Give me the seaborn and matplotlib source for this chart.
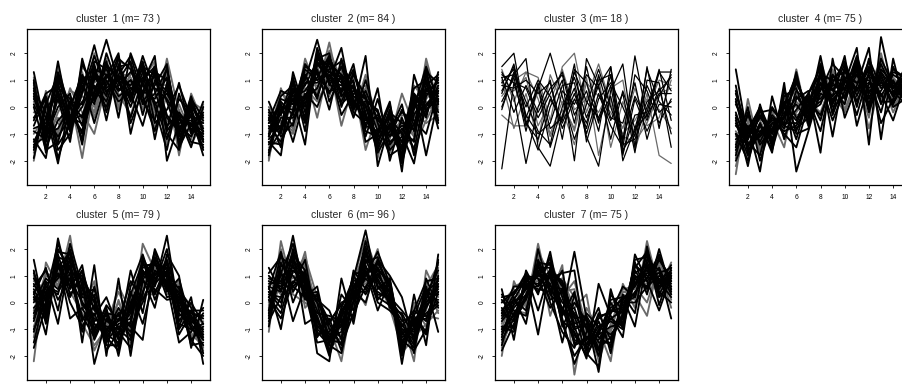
import numpy as np
import pandas as pd
import matplotlib
matplotlib.use("Agg")
import matplotlib.pyplot as plt
import seaborn as sns

time_points = list(range(1, 16))
x_ticks = [2, 4, 6, 8, 10, 12, 14]
y_ticks = [-2, -1, 0, 1, 2]
cluster_ids = [1, 2, 3, 4, 5, 6, 7]
cluster_sizes = [73, 84, 18, 75, 79, 96, 75]

cluster1 = [
    [1.3, -0.9, 1.7, -0.6, 1.1, 0.4, 1.2, 0.6, 1.0, 0.5, 1.2, -0.3, -0.9, 0.1, -0.9],
    [-2.0, 0.6, -1.2, 0.4, -1.9, 0.8, 0.3, 1.4, 0.2, 1.1, -0.4, 1.8, -0.2, -0.7, -0.4],
    [-1.2, -1.9, 0.9, -0.8, 0.6, 2.3, 0.5, 1.2, 1.9, 0.4, 1.5, 0.2, -1.1, -0.3, -1.8],
    [0.6, -0.2, -2.1, 0.2, -0.4, 1.0, 2.5, 0.9, 0.3, 1.9, 0.6, -0.8, 0.9, -1.0, 0.2],
    [-0.9, -1.2, 0.3, -1.3, 1.8, 0.2, 1.1, 2.0, -1.0, 0.9, 1.9, -2.0, -0.6, -0.5, -1.1],
    [0.2, -0.5, -0.9, 0.7, -0.2, -1.0, 0.9, 0.3, 1.2, 1.5, -0.2, 1.3, -1.8, 0.5, -0.6],
    [-1.5, 0.1, 1.2, -0.4, 0.9, 1.5, -0.5, 1.6, 0.5, -0.7, 1.0, 0.6, -0.4, -1.5, 0.0],
    [0.9, -1.5, -0.5, 0.0, -1.0, 0.6, 1.7, -0.4, 2.0, 0.8, 0.2, -1.2, 0.3, -0.2, -1.3],
    [-0.4, 0.3, -1.6, -1.0, 0.5, 1.9, 0.7, 1.1, 0.8, 1.4, -1.2, 0.9, -1.3, 0.2, -0.8],
    [-1.7, -0.7, 1.5, -0.2, 1.3, -0.4, 1.4, 0.5, -0.3, 1.0, 1.7, -0.5, -0.8, -1.2, 0.1],
    [0.4, -1.1, 0.0, 0.5, -1.4, 1.2, 0.4, 1.8, 1.4, 0.2, 0.8, 1.6, -1.5, -0.6, -1.5],
    [-0.7, 0.4, -1.4, -0.7, 0.8, 0.1, 2.0, 0.7, 0.4, 1.7, 0.0, -1.6, 0.5, -0.9, -0.3],
    [1.0, -1.7, 0.7, 0.3, -0.7, 1.6, -0.2, 1.5, 1.6, -0.3, 1.3, 1.0, -1.0, 0.4, -1.0],
    [-1.0, -0.3, -0.6, -1.1, 1.5, 0.9, 1.3, -0.1, 0.9, 1.2, -0.8, 0.4, -0.1, -1.4, -0.5],
    [0.1, -0.8, 1.0, 0.1, -1.2, 1.3, 0.8, 1.9, -0.6, 0.6, 1.4, -1.0, -1.6, 0.0, -1.6],
    [-1.9, 0.2, -1.9, -0.5, 0.2, 0.5, 1.6, 1.0, 1.7, 0.1, 0.5, 1.4, -0.7, -1.1, -0.2],
    [0.7, -1.3, 0.5, -0.9, 1.0, -0.6, 1.0, 0.2, 0.6, 1.6, -0.6, -0.1, 0.8, -0.4, -1.2],
    [-0.2, -0.1, -1.0, 0.4, -0.5, 2.0, 0.1, 1.3, 1.1, 0.3, 0.9, 0.8, -1.2, -0.8, -0.7],
    [-1.3, -0.4, 0.6, -0.6, 0.0, 1.1, 0.6, 0.8, 1.3, 0.9, 0.1, 0.5, -0.3, -0.7, -1.0],
    [0.5, -1.0, -0.8, 0.0, 1.2, 0.3, 1.5, 1.1, 0.0, 1.3, 1.1, -0.4, -0.9, 0.3, -0.4],
    [-0.8, -0.6, 1.1, -0.3, -0.9, 1.4, 1.2, 0.4, 0.7, 0.6, 0.3, 1.1, -1.4, -0.1, -1.3],
    [1.1, -1.4, -0.2, 0.6, 0.4, 0.0, 0.8, 1.7, 1.5, -0.1, 1.6, -1.4, 0.1, -1.0, 0.0],
    [-1.6, 0.0, 0.4, -0.9, 1.6, 0.7, 0.0, 1.2, 0.4, 1.1, 0.7, 0.3, -0.5, -0.6, -0.9],
    [0.0, -1.6, -1.3, 0.2, 0.1, 1.7, 1.4, 0.6, 1.0, 0.2, -0.5, 1.5, -1.0, 0.0, -0.5],
    [-0.5, 0.5, 0.8, -0.5, -0.3, 0.8, 0.2, 1.5, 0.2, 1.5, 1.2, -0.7, -0.3, -1.3, -1.4],
    [0.8, -0.9, -0.4, -1.2, 0.7, -0.2, 1.8, 0.0, 1.3, 0.8, 0.4, 0.6, -1.7, 0.2, -0.1],
    [-1.4, -1.1, 1.3, 0.0, 1.1, 1.1, 0.6, 1.0, -0.4, 1.0, 1.5, -0.9, -0.2, -0.8, -1.2],
    [0.3, -0.4, -1.1, -0.4, -0.6, 0.4, 1.1, 1.4, 0.7, 0.4, -0.9, 0.8, -0.8, -0.3, -0.6],
]

cluster2 = [
    [0.2, -0.9, 0.5, 1.0, 2.5, 0.8, 1.5, 0.2, -0.4, -1.3, -0.2, -1.8, 0.2, 0.9, -0.8],
    [-2.0, 0.7, -0.5, 1.8, 0.6, 2.4, 0.3, 1.1, 0.5, -0.5, -1.5, -0.6, -1.0, 1.8, 0.1],
    [-1.3, -1.8, 1.3, -0.2, 1.6, 1.0, 2.2, -0.1, 1.9, -2.2, -0.6, -1.3, 0.5, -0.4, 1.3],
    [-0.5, 0.1, -1.3, 0.4, 1.1, 1.9, 0.5, 1.6, -0.8, 0.7, -2.0, -0.4, -1.6, 0.6, 0.4],
    [-1.6, -0.9, 0.3, -1.4, 2.1, 0.2, 1.2, 0.7, 0.3, -0.9, 0.2, -2.4, 1.2, -0.2, 0.8],
    [-0.2, -0.3, -0.8, 1.3, -0.4, 1.6, -0.7, 0.9, -1.6, -0.2, -1.2, 0.5, -0.7, 1.1, -0.1],
    [-1.0, 0.4, 0.8, 0.1, 1.4, -0.1, 1.8, 0.4, 0.1, -1.6, -0.4, -1.0, -2.1, 0.4, 1.0],
    [-0.7, -1.3, -0.2, 0.9, 0.9, 1.3, 0.9, -0.4, 1.0, -0.6, -1.8, -1.5, 0.0, 1.5, 0.2],
    [-1.8, -0.1, 0.6, -0.6, 1.8, 2.0, 0.0, 1.3, -0.3, -1.1, -0.8, -0.2, -0.5, -1.0, 0.6],
    [0.0, -0.6, -1.0, 0.7, 0.2, 1.1, 1.4, 0.0, 0.7, -1.9, 0.0, -1.7, 0.8, 0.2, -0.4],
    [-1.1, 0.3, 0.1, 1.5, 1.2, 0.6, 0.7, 0.8, -1.1, 0.3, -1.4, -0.8, -1.3, 1.3, 0.9],
    [-0.4, -1.5, 1.0, -0.9, 1.9, 1.5, -0.3, 0.5, 0.4, -1.4, -0.1, -1.9, 0.4, -1.8, 0.3],
    [-1.4, -0.4, -0.4, 0.3, 0.7, 1.8, 1.0, -0.2, -0.6, -0.3, -1.1, -0.1, -0.9, 0.8, 1.2],
    [-0.9, 0.5, 0.2, 1.1, 1.5, 0.4, 1.6, 0.6, 0.8, -0.8, -0.5, -1.4, -0.2, -0.6, -0.3],
    [-0.3, -1.1, -0.6, 0.5, 0.0, 1.2, 0.6, 1.4, -0.2, -1.7, -0.9, 0.1, -1.8, 0.0, 0.7],
    [-1.2, -0.7, 0.9, -0.4, 2.2, 0.9, 1.1, 0.1, 0.2, -0.1, -1.6, -1.1, 0.7, 1.0, -0.6],
    [-0.6, 0.0, -0.1, 1.2, 0.4, 1.7, 0.4, 1.0, -1.3, -1.0, -0.3, -2.1, -0.3, 0.5, 0.5],
    [-1.5, -1.2, 0.4, 0.2, 1.3, 0.7, 1.3, 0.3, 0.6, -0.6, -1.0, -0.5, -1.1, 1.6, 0.0],
    [-0.8, -0.2, 0.3, 0.8, 1.7, 1.0, 0.8, 0.7, 0.0, -1.2, -0.7, -1.6, -0.6, 0.7, 0.2],
    [-1.7, 0.2, -0.3, 1.4, 1.0, 1.4, 1.7, 0.2, -0.5, -0.4, -1.3, -0.9, 0.2, -0.3, 1.1],
    [-0.1, -1.0, 0.7, 0.0, 2.0, 0.9, 0.2, 1.2, 0.4, -1.5, -0.6, -1.3, -1.2, 1.2, -0.2],
    [-1.0, -0.5, -0.9, 1.0, 0.5, 2.1, 1.0, -0.3, 1.2, -0.7, -1.7, -0.3, -0.4, 0.3, 0.8],
    [-0.5, 0.6, 0.4, 0.6, 1.3, 0.5, 1.5, 0.9, -0.9, -1.1, 0.1, -2.0, 0.5, -0.1, 0.3],
    [-1.3, -1.4, -0.1, 1.6, 1.0, 1.2, 0.1, 0.6, 0.3, -0.2, -1.1, -0.7, -0.8, 1.4, -0.5],
    [-0.6, -0.3, 1.1, -0.5, 1.6, 1.6, 1.2, 0.3, -0.7, -0.9, -0.4, -1.5, 0.1, 0.6, 0.9],
    [-1.9, 0.1, 0.0, 0.9, 0.8, 0.7, 0.6, 1.3, 0.1, -1.3, -1.4, -1.0, -1.5, -0.5, 0.4],
    [-0.2, -0.8, 0.6, 0.3, 1.8, 1.3, 1.1, -0.1, 0.6, -0.5, -0.8, -1.8, -0.1, 1.0, 0.1],
    [-1.1, -0.1, -0.7, 1.2, 0.3, 1.9, 0.4, 0.8, -0.4, -1.0, -0.2, -0.6, -0.7, 0.1, 0.6],
]

cluster3 = [
    [-2.3, 0.9, -0.6, -1.2, 0.3, -0.5, 1.3, 0.2, -0.4, 0.8, -1.6, -0.9, 0.2, 0.6, 1.1],
    [-0.3, -0.7, -0.7, 0.6, -1.0, 0.2, -0.9, 0.9, 0.4, -0.2, -1.0, -0.5, 0.3, -0.1, -0.8],
    [1.5, 2.0, -0.5, -1.6, 0.0, 1.0, -2.0, 1.8, 0.8, 1.5, -2.0, -0.8, -0.3, 0.5, 0.5],
    [1.1, 1.2, 1.8, -1.5, -2.2, -0.3, 0.7, -1.1, -2.2, 0.6, 1.6, -1.5, 1.5, -0.8, 1.4],
    [0.9, 1.4, -0.7, 0.7, 2.0, 0.4, -1.2, 0.1, 1.4, 0.0, -1.3, 1.9, -0.4, 1.3, 1.3],
    [0.4, 1.0, 1.3, 1.1, -0.5, 1.5, 2.0, -0.2, 1.1, -1.5, 0.2, -1.0, 0.5, -1.8, -2.1],
    [1.3, 0.4, -2.1, 0.0, 1.0, -1.2, 1.4, 0.9, -0.6, 1.2, -1.8, 0.3, -0.9, 0.1, 0.0],
    [-0.1, 1.3, 0.2, -0.9, -1.4, 0.6, 0.1, 1.2, 0.7, -0.5, 0.5, -1.7, 1.0, 0.9, -1.5],
    [0.8, 0.7, 1.0, 0.5, 0.9, -0.8, 0.3, -0.6, 1.0, 1.2, -1.4, -1.2, 0.0, 1.3, 0.6],
    [1.0, -0.8, 0.5, -1.3, 1.2, 0.1, -0.8, 1.1, -1.8, 0.3, -0.8, 0.7, -0.7, -0.4, 1.0],
    [0.2, 1.1, -0.9, 0.9, -0.8, -0.4, 1.6, -1.3, 0.3, 0.9, 0.0, -1.1, 1.4, 0.2, -0.3],
    [1.2, 0.9, 0.7, -0.4, 0.5, 1.3, -0.3, 0.6, -0.9, 1.5, -1.2, 0.4, -0.5, 0.7, -1.0],
    [0.6, 1.5, -0.3, -1.0, -0.6, 0.8, 0.9, -1.0, 0.5, -0.7, -1.5, 1.2, 0.6, -0.6, 0.3],
    [1.4, 0.2, 1.3, 0.3, -1.1, -0.1, -1.4, 0.4, -0.2, 0.7, 1.0, -1.6, -0.1, 1.0, 0.8],
    [0.0, 1.2, 0.0, 1.0, 0.4, -0.6, 0.5, -0.8, 1.2, -0.4, -0.6, 0.9, -1.2, 0.4, 1.2],
    [1.1, -0.2, 0.8, -0.2, 0.7, 1.2, -0.6, 1.5, -0.5, 0.4, -1.7, -0.3, -0.2, 1.4, -0.5],
    [0.5, 1.6, -0.4, 0.8, -1.5, 0.0, 1.1, -0.4, 0.8, -1.2, 0.6, -0.8, 0.8, -0.2, 0.2],
    [0.9, 0.6, 1.1, -0.7, 0.2, 1.4, -0.1, 0.3, 1.6, 0.1, -1.1, -1.3, -0.6, 0.5, 0.7],
]

cluster4 = [
    [1.4, -1.2, -0.3, -1.0, 0.1, -1.2, 0.4, -0.5, 1.2, 0.3, 1.5, -0.2, 1.2, 0.1, 1.0],
    [-2.5, 0.3, -1.6, -0.2, -0.9, 1.4, -0.6, 1.0, 0.1, 1.2, 0.5, 1.6, 0.3, 1.1, 0.4],
    [-0.4, -2.2, 0.1, -1.4, 0.6, -0.4, -0.2, 1.9, -0.3, 0.9, 2.2, -1.4, 2.6, 0.5, 1.5],
    [-1.6, -0.7, -2.4, 0.4, -1.2, 0.3, 0.6, -1.7, 1.8, -0.4, 0.8, 2.2, -1.2, 1.8, 0.0],
    [0.8, -1.5, -0.6, -1.7, 0.9, -2.4, -0.9, 0.7, 0.4, 1.9, -0.7, 0.9, 0.5, -0.5, 0.9],
    [-1.1, -0.4, -1.2, -0.5, -1.5, 0.8, 0.2, -0.2, 1.0, 0.5, 1.3, 0.2, 1.5, 0.9, 0.6],
    [-0.6, -1.8, -0.9, -0.9, 0.2, -0.8, -0.4, 1.3, -1.1, 1.4, 0.2, 1.2, -0.6, 0.3, 1.2],
    [-2.0, -0.9, 0.0, -1.2, -0.3, 1.0, -0.1, 0.2, 0.8, 0.7, 1.7, 0.0, 1.8, 0.8, 0.3],
    [0.2, -1.3, -1.8, 0.0, -0.7, -0.1, 0.5, 1.5, 0.2, 1.0, 0.6, 1.4, 0.1, 1.3, 1.1],
    [-1.3, -0.6, -0.5, -1.4, 0.5, 0.5, -0.7, 0.4, 1.4, -0.1, 1.1, -0.8, 1.0, 0.0, 0.7],
    [-0.2, -1.6, -1.0, -0.4, -1.0, -1.5, 0.1, 1.1, 0.6, 1.6, 0.0, 1.8, 0.7, 1.0, 0.2],
    [-1.8, -0.2, -1.4, -0.8, 0.0, 1.2, -0.5, 0.9, -0.5, 0.6, 1.9, 0.5, 1.3, 0.4, 1.3],
    [0.5, -1.0, -0.2, -0.1, -0.6, -0.6, 0.3, -0.9, 1.1, 1.3, 0.9, 1.0, -0.2, 1.5, 0.5],
    [-0.9, -1.9, -0.7, -1.1, 0.3, 0.2, -0.3, 1.7, 0.3, 0.2, 1.4, 0.6, 1.1, -0.2, 0.8],
    [-1.5, 0.0, -2.0, -0.6, -0.4, 0.9, 0.0, 0.6, 1.6, 1.1, -0.3, 1.3, 0.9, 0.7, 1.4],
    [0.1, -0.8, -0.1, -1.5, 0.7, -1.0, -0.8, 1.2, 0.0, 0.4, 1.2, 0.3, 1.6, 0.6, 0.1],
    [-1.0, -1.4, -1.1, -0.3, -0.8, 0.6, 0.2, -0.3, 0.9, 1.7, 0.4, 1.5, 0.4, 1.2, 0.9],
    [-2.2, -0.5, -0.8, -0.7, -0.1, -0.3, -0.2, 0.8, 0.5, -0.2, 1.0, -0.4, 2.0, 0.2, 0.6],
    [-0.7, -1.1, -0.4, -0.9, -0.2, 0.1, -0.5, 0.9, 0.4, 0.9, 1.2, 0.6, 0.9, 0.5, 0.8],
    [-1.4, -0.3, -1.3, -0.4, -0.7, -0.9, 0.3, 0.3, 0.9, 0.4, 1.6, 0.1, 1.4, 0.9, 0.4],
    [0.3, -1.7, -0.7, -1.3, 0.4, 0.7, -0.6, 1.4, -0.2, 1.5, 0.6, 1.7, 0.2, 0.2, 1.0],
    [-1.9, -0.6, -1.5, -0.2, -1.1, -0.2, 0.4, -0.4, 1.3, 0.8, 0.3, 0.8, 1.7, 1.0, 0.5],
    [-0.3, -1.2, 0.0, -1.0, 0.1, 1.1, -0.3, 0.7, 0.7, 0.1, 1.8, 0.4, 0.6, 1.4, 1.1],
    [-1.2, -0.8, -1.1, -0.6, -0.9, -0.7, 0.1, 1.6, 0.1, 1.1, 0.9, 1.1, 1.0, 0.0, 0.3],
    [-0.5, -1.5, -0.3, -1.2, -0.4, 0.4, -0.2, 0.1, 1.2, 0.6, 1.4, -0.1, 1.3, 0.7, 1.2],
    [-1.7, -0.1, -1.7, -0.8, 0.3, 0.0, 0.0, 1.0, 0.6, 1.3, 0.1, 1.3, 0.4, 1.1, 0.6],
    [0.6, -1.0, -0.9, -0.5, -0.6, 1.3, -0.7, 0.5, 0.3, 0.7, 1.3, 0.7, 1.1, 0.4, 0.9],
    [-1.0, -2.0, -0.6, -1.6, 0.0, -0.5, 0.5, 1.2, 1.0, 1.0, 0.7, 0.9, 0.8, 0.8, 0.2],
]

cluster5 = [
    [1.6, -0.6, 2.4, 0.5, 1.4, -1.0, -0.2, -2.0, 0.3, 1.5, 0.6, 2.5, -0.4, -0.9, -1.6],
    [-2.2, 1.5, 0.6, 2.5, -0.3, 0.8, -1.5, 0.1, -1.2, 2.2, 1.2, 0.5, 0.8, -1.3, -0.5],
    [0.4, -1.2, 1.8, 0.3, 0.9, -2.3, -0.6, -1.3, 1.2, -0.4, 2.0, 0.9, -0.9, 0.2, -2.3],
    [-0.6, 0.8, -0.8, 1.7, -1.5, 1.4, -2.0, 0.9, -2.0, 0.9, -0.2, 1.8, 1.0, -1.7, 0.1],
    [0.9, 0.1, 1.3, 1.9, 0.0, -0.5, 0.2, -1.0, -0.4, 1.3, 1.5, 0.2, 0.3, -0.5, -1.2],
    [-1.3, 1.1, 0.9, 0.7, 1.1, -0.8, -1.1, -0.3, -1.5, 0.2, 0.9, 1.4, -0.6, -1.0, -0.9],
    [0.2, -0.3, 2.0, 1.2, -0.7, 0.3, -1.6, -1.6, 0.6, 1.8, 0.4, 1.1, 0.5, -0.2, -1.9],
    [-0.4, 0.6, 0.3, 2.2, 0.6, -1.4, -0.4, -0.5, -0.9, -1.4, 1.7, 0.7, -1.5, -1.1, -0.4],
    [1.2, -0.8, 1.5, 0.0, -0.9, -0.1, -1.3, -1.8, 0.0, 1.0, 0.8, 1.6, 0.0, -0.6, -1.4],
    [-0.9, 0.4, 1.0, 1.5, 0.4, -1.8, -0.8, 0.4, -0.6, 0.5, 1.3, 0.3, 0.6, -1.5, -0.7],
    [0.6, 1.2, 0.1, 0.9, 1.0, 0.0, -1.8, -1.1, -1.7, 1.6, 0.1, 1.2, -1.0, -0.3, -1.1],
    [-1.7, -0.1, 1.6, -0.6, -0.2, -1.1, -0.1, -0.7, 0.8, 0.1, 1.1, 0.8, 0.4, -1.4, -2.0],
    [0.0, 0.9, 0.5, 1.4, -1.1, 0.6, -1.2, -1.5, -0.2, 1.2, 0.7, 2.0, -0.2, -0.8, -0.2],
    [1.0, -0.5, 1.2, 0.6, 0.7, -0.6, -0.9, 0.0, -1.0, 0.6, 1.8, 0.6, 0.7, -1.2, -1.3],
    [-0.2, 0.3, 2.2, 1.0, -0.5, -1.3, -0.4, -1.2, 0.4, -0.8, 1.0, 1.5, -0.7, 0.0, -0.8],
    [0.3, 1.3, -0.3, 2.0, 0.2, 0.1, -1.4, -0.4, -1.3, 0.8, 0.5, 0.1, 0.2, -1.6, -1.5],
    [-1.0, 0.0, 1.1, 0.2, 1.2, -0.3, -0.7, -0.9, -0.8, 1.4, 1.4, 1.3, -1.2, -0.4, -0.6],
    [0.8, 0.5, 0.7, 1.6, -0.8, -1.6, -1.0, 0.6, -0.3, 0.3, 0.3, 0.9, 0.1, -0.9, -1.8],
    [0.1, 0.2, 1.4, 1.3, 0.5, -0.2, -1.0, -0.7, -0.3, 0.9, 1.1, 1.0, 0.3, -0.7, -1.0],
    [-0.7, 0.7, 1.0, 0.9, 0.0, -0.7, -0.5, -1.4, -0.7, 1.1, 0.9, 1.3, -0.3, -0.5, -1.3],
    [0.7, -0.2, 1.7, 1.5, 0.8, 0.2, -1.3, -0.6, -1.1, 0.4, 1.5, 0.6, 0.6, -1.0, -0.8],
    [-0.5, 1.0, 0.8, 0.4, -0.4, -0.9, -0.6, -1.1, 0.1, 1.5, 0.6, 1.7, 0.1, -1.2, -1.6],
    [0.5, -0.4, 1.9, 1.8, 0.3, 0.5, -1.1, -0.2, -0.9, 0.0, 1.2, 0.8, -0.5, -0.3, -0.3],
    [-1.1, 0.6, 0.4, 1.1, 0.9, -1.2, -0.3, -1.7, -0.1, 1.0, 1.6, 0.4, 0.9, -0.8, -1.4],
    [1.1, 0.0, 1.3, 0.8, -0.6, -0.4, -1.5, -0.8, -0.6, 1.7, 0.7, 1.2, -0.1, -1.4, -0.9],
    [-0.3, 1.1, 0.6, 1.4, 0.5, 0.0, -0.8, -1.2, -1.0, 0.6, 1.4, 1.1, 0.4, -0.1, -1.7],
    [0.2, -0.7, 1.5, 0.6, 1.2, -0.8, -1.2, -0.4, -0.2, 1.2, 0.3, 1.5, -0.8, -1.0, -1.2],
    [-1.5, 0.4, 0.9, 1.9, -0.1, -0.6, -0.9, -1.0, -1.4, 0.3, 1.9, 0.5, 0.2, -0.4, -0.5],
]

cluster6 = [
    [1.3, 0.4, 2.5, 0.2, 0.6, -1.5, -0.2, 0.9, 2.7, 0.5, 0.9, -1.6, -0.5, 0.6, -1.1],
    [-1.1, 2.3, 0.5, 1.9, -0.8, -0.9, -2.2, 0.4, 0.8, 2.0, -0.3, -0.6, -2.2, 1.2, 0.2],
    [0.6, -1.0, 1.6, 1.0, -1.9, -2.2, 0.9, -0.8, 1.6, 1.3, 0.6, -2.3, 0.3, -1.6, 1.8],
    [-0.4, 1.2, -0.7, 0.6, 0.1, -0.3, -1.4, 1.2, 0.5, 1.6, 1.0, 0.2, -1.5, -0.2, 0.6],
    [0.9, 0.7, 1.9, -0.8, -0.5, -1.8, -0.5, 0.0, 2.1, 0.2, -0.1, -1.2, -0.8, 0.3, 1.2],
    [0.0, 1.6, 0.9, 1.4, -0.1, -1.1, -1.0, 0.7, -0.1, 1.8, 0.5, -1.9, -1.3, -0.8, -0.3],
    [-0.7, 0.2, 1.4, 0.3, 0.4, -1.6, 0.3, -0.3, 1.8, 0.8, 0.0, -0.9, -0.3, 0.8, 0.9],
    [0.5, 1.9, 0.0, 1.1, -1.3, -0.6, -1.8, 0.5, 1.2, -0.3, 0.8, -1.4, -1.8, -1.0, 0.4],
    [0.2, -0.4, 1.2, 0.8, -0.6, -2.0, -0.6, 1.0, 0.3, 1.1, 0.2, -0.3, -0.9, 0.1, 1.5],
    [-0.2, 1.0, 2.1, -0.2, 0.3, -1.2, -1.2, -0.1, 1.5, 1.4, -0.2, -1.7, 0.0, -0.5, -0.6],
    [1.0, 0.5, 0.7, 1.6, -0.9, -0.8, 0.0, 0.2, 2.3, 0.6, 0.4, -1.0, -1.1, 0.5, 0.0],
    [-0.9, 1.4, 1.0, 0.4, -1.5, -1.4, -1.5, 0.8, 1.0, 1.9, 0.7, -2.0, -0.6, -1.2, 1.0],
    [0.4, 0.0, 1.5, 0.9, 0.0, -1.9, -0.3, -0.5, 1.4, 0.0, -0.3, -0.8, -1.6, 0.0, 0.5],
    [-0.3, 2.0, 0.3, 0.0, -0.4, -1.0, -0.8, 0.6, 0.7, 1.2, 0.9, -1.5, -0.4, -0.3, 1.3],
    [0.7, 0.8, 1.8, 1.2, -1.1, -1.6, -1.9, 0.1, 1.9, 0.9, 0.1, -0.5, -1.9, 0.9, -0.2],
    [0.1, -0.6, 0.8, 0.5, 0.2, -0.7, -0.1, 0.4, 0.0, 1.5, 0.6, -1.8, -0.7, -0.6, 0.7],
    [-0.6, 1.1, 2.2, 0.7, -0.7, -1.3, -1.1, 1.1, 1.1, 0.3, 0.2, -1.1, -1.2, 0.2, 0.1],
    [0.8, 0.3, 0.4, 1.3, -0.2, -1.7, -0.7, -0.2, 1.7, 0.7, -0.1, -1.3, -0.1, -0.9, 1.1],
    [0.2, 1.0, 1.2, 0.8, -0.3, -1.2, -0.9, 0.3, 1.3, 1.0, 0.4, -1.3, -1.0, -0.1, 0.4],
    [-0.5, 1.5, 0.6, 1.0, -1.0, -1.4, -0.4, 0.5, 1.6, 0.6, 0.0, -1.0, -1.4, 0.4, 0.8],
    [0.6, 0.4, 1.7, 0.1, 0.3, -1.0, -1.3, 0.0, 1.0, 1.5, 0.6, -1.5, -0.6, -0.5, -0.1],
    [-0.1, 1.3, 0.9, 1.5, -0.5, -1.9, -0.2, 0.8, 2.0, 0.8, -0.2, -0.8, -1.4, 0.6, 1.4],
    [0.8, 0.6, 1.4, 0.5, 0.0, -0.8, -1.6, -0.4, 0.6, 1.2, 0.8, -1.7, -0.9, -0.4, 0.0],
    [-0.3, 1.8, 0.4, 1.2, -0.7, -1.5, -0.8, 0.6, 1.5, 1.7, 0.3, -1.1, -1.7, 0.0, 0.6],
    [0.4, -0.2, 2.0, 0.6, -1.2, -1.1, -0.4, 0.2, 0.9, 0.4, 0.1, -0.7, -0.5, -1.1, 1.6],
    [-0.8, 0.9, 1.1, 1.7, 0.2, -1.7, -1.3, 0.9, 2.4, 1.1, 0.5, -1.4, -1.2, 0.7, -0.4],
    [0.3, 0.2, 0.6, 0.2, -0.4, -0.5, -0.7, -0.6, 1.2, 0.1, 0.7, -1.9, -0.3, -0.7, 0.9],
    [1.1, 1.7, 1.3, 0.9, -0.9, -1.3, -0.3, 0.4, 0.4, 1.3, -0.2, -0.4, -1.3, 0.3, 0.3],
]

cluster7 = [
    [0.5, -1.4, 1.2, 0.3, 1.9, -0.4, 1.9, -0.6, -2.6, 0.5, -1.0, 1.5, 0.3, 2.0, 0.4],
    [-2.0, 0.8, -0.2, 2.2, 0.2, 1.4, -2.7, -0.2, -1.0, -2.2, 0.7, -0.2, 2.3, 0.5, 1.5],
    [-0.4, -0.7, 0.9, -1.2, 1.3, 0.6, -0.9, -2.1, 0.7, -0.5, -1.3, 1.8, 0.8, -0.3, 1.0],
    [-1.3, 0.2, -0.8, 1.6, 0.5, -1.5, 0.3, -1.0, -1.8, 0.1, 0.2, -0.9, 1.6, 1.2, -0.6],
    [0.1, -0.5, 0.6, 1.0, 1.5, 0.2, -1.4, -1.6, -0.4, -1.4, -0.5, 0.9, 1.2, 0.6, 0.9],
    [-1.0, 0.4, 0.1, 1.8, -0.5, 0.9, -0.2, 0.3, -2.2, -0.8, 0.4, 0.3, -0.5, 1.6, 0.3],
    [-0.2, -1.0, 1.0, 0.6, 1.1, -0.8, -2.0, -1.3, -1.2, 0.0, -0.8, 1.3, 1.9, -0.1, 1.3],
    [-1.6, 0.0, 0.5, 1.3, 0.9, 1.1, 1.2, -1.8, -0.7, -1.7, 0.0, 0.0, 0.6, 1.0, 0.7],
    [0.3, -0.3, -0.5, 2.0, 0.3, -0.2, -1.0, -0.8, -2.0, -0.3, -0.2, 1.1, 1.4, 0.3, 1.1],
    [-0.8, 0.6, 0.8, 0.8, 1.6, 0.4, 0.5, -1.5, -1.5, -1.1, 0.5, 0.6, 0.0, 1.4, 0.1],
    [-1.8, -0.8, 0.2, 1.4, 0.0, -1.1, -1.7, -0.4, -0.9, -0.6, -0.9, 1.6, 1.7, 0.8, 1.2],
    [-0.5, 0.3, 1.1, -0.3, 1.2, 0.8, -0.5, -1.9, -2.4, 0.3, -0.3, 0.4, 0.9, 1.8, 0.5],
    [-1.1, -0.2, 0.3, 1.1, 0.7, -0.6, -2.3, -1.1, -0.2, -1.9, 0.3, -0.4, 2.1, 0.2, 0.8],
    [0.0, 0.5, -0.1, 1.9, 1.0, 0.2, 0.8, -0.9, -1.6, -0.9, -0.6, 1.0, 0.4, 1.3, -0.2],
    [-1.4, -0.6, 0.7, 0.5, 0.4, 1.2, -1.2, -2.0, -1.1, -0.2, 0.1, 0.7, 1.5, 0.7, 1.4],
    [-0.6, 0.1, -0.3, 1.5, 1.4, -0.9, 0.0, -0.7, -1.7, -1.3, -0.4, 1.4, 1.0, 1.1, 0.6],
    [-0.9, -1.1, 0.9, 0.9, -0.2, 0.5, -1.6, -1.4, -0.5, -0.4, 0.6, 0.2, 1.8, 0.4, 0.0],
    [-0.3, 0.2, 0.4, 1.2, 0.8, -0.3, -0.7, -1.2, -1.3, -1.0, -0.7, 0.8, 0.7, 1.5, 1.0],
    [-0.7, -0.1, 0.5, 1.0, 0.9, 0.0, -0.4, -1.3, -1.4, -0.6, -0.3, 0.7, 1.1, 0.9, 0.6],
    [-1.2, -0.4, 0.2, 1.5, 0.6, 0.5, -0.9, -0.9, -1.8, -0.4, 0.2, 0.3, 1.4, 0.6, 1.2],
    [0.0, 0.4, 0.8, 0.7, 1.2, -0.4, -0.2, -1.6, -0.9, -1.2, -0.6, 1.0, 0.8, 1.3, 0.3],
    [-1.5, -0.6, 0.0, 1.7, 0.3, 0.3, -1.3, -1.0, -2.1, -0.1, 0.4, 0.5, 1.6, 0.4, 1.0],
    [-0.3, 0.1, 0.9, 0.4, 1.0, -0.5, 0.4, -1.7, -1.2, -0.9, -0.8, 1.2, 0.5, 1.7, 0.8],
    [-0.9, -0.9, 0.3, 1.3, 1.3, 0.7, -0.8, -0.6, -1.5, -1.5, 0.0, 0.2, 1.9, 0.8, 0.2],
    [0.2, 0.3, 1.0, 0.9, 0.5, -0.2, -1.5, -1.4, -0.6, -0.3, -0.4, 1.4, 0.9, 1.1, 1.3],
    [-1.7, -0.3, -0.4, 1.6, 0.7, 0.9, 0.2, -1.1, -1.9, -1.0, 0.3, 0.1, 1.2, 0.2, 0.5],
    [-0.4, 0.6, 0.6, 0.6, 1.7, -0.7, -1.1, -2.0, -1.0, -0.7, -1.0, 0.9, 0.6, 1.6, 0.9],
    [-1.0, -0.5, 0.1, 1.2, 0.1, 0.4, -0.6, -0.5, -1.3, -1.6, 0.1, 0.6, 1.3, 0.5, 1.1],
]

clusters = [cluster1, cluster2, cluster3, cluster4, cluster5, cluster6, cluster7]

sns.set_theme(style="white")
plt.rcParams["font.family"] = ["Liberation Sans", "DejaVu Sans"]

W, H = 902, 385
fig = plt.figure(figsize=(W / 100, H / 100), dpi=100)

lefts = [27, 262, 495, 729]
tops = [29, 225]
heights = [156, 155]
pw = 183

for k, (cid, size, prof) in enumerate(zip(cluster_ids, cluster_sizes, clusters)):
    r, c = divmod(k, 4)
    l, t, h = lefts[c], tops[r], heights[r]
    ax = fig.add_axes([l / W, 1 - (t + h) / H, pw / W, h / H])
    rows = []
    for g, line in enumerate(prof):
        for x, v in zip(time_points, line):
            rows.append({"gene": g, "x": x, "value": v, "shade": g % 4 == 1})
    df = pd.DataFrame(rows)
    lw = 0.9 if cid == 3 else 1.35
    for shade, col in [(True, "#6a6a6a"), (False, "black")]:
        sub = df[df["shade"] == shade]
        sns.lineplot(data=sub, x="x", y="value", units="gene", estimator=None,
                     color=col, lw=lw, ax=ax, legend=False)
    ax.set_xlim(0.44, 15.56)
    ax.set_ylim(-2.9, 2.9)
    ax.set_xticks(x_ticks)
    ax.set_yticks(y_ticks)
    ax.set_xticklabels([str(v) for v in x_ticks], fontsize=4.8)
    ax.set_yticklabels([str(v) for v in y_ticks], fontsize=4.8, rotation=90, va="center")
    ax.tick_params(axis="both", direction="out", length=2.5, width=0.6, pad=4,
                   colors="black", bottom=True, left=True)
    ax.set_xlabel("")
    ax.set_ylabel("")
    for s in ax.spines.values():
        s.set_visible(True)
        s.set_color("black")
        s.set_linewidth(0.9)
    ax.set_title(f"cluster  {cid} (m= {size} )", fontsize=7.5, pad=5)

fig.savefig("out.png", dpi=100)
